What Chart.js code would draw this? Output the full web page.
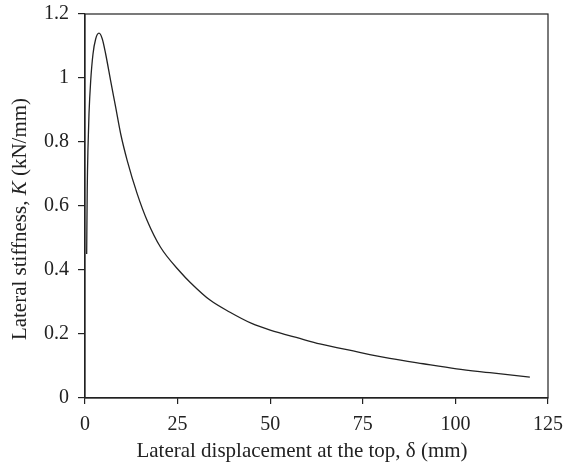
<!DOCTYPE html>
<html>
<head>
<meta charset="utf-8">
<script src="https://cdn.jsdelivr.net/npm/chart.js@4/dist/chart.umd.min.js"></script>
<style>
  html, body { margin: 0; padding: 0; background: #fff; }
  #wrap { width: 579px; height: 463px; }
</style>
</head>
<body>
<div id="wrap"><canvas id="chart" width="579" height="463"></canvas></div>
<script>
// lateral displacement at the top (mm)
var displacement = [0.45, 0.6, 0.81, 1.08, 1.53, 2.16, 2.88, 3.78, 4.67, 5.58, 6.94, 8.29, 9.64, 11.4, 14.1,
  16.8, 20.4, 25.8, 28.35, 33.75, 39.15, 45, 50, 58, 63.4, 72.4, 82.3, 91.3, 100.3, 109.3, 120.1];
// lateral stiffness K (kN/mm)
var stiffness = [0.45, 0.65, 0.783, 0.888, 0.99, 1.075, 1.122, 1.14, 1.122, 1.075, 0.99, 0.908, 0.825, 0.742, 0.638,
  0.554, 0.471, 0.393, 0.362, 0.306, 0.268, 0.233, 0.212, 0.186, 0.169, 0.147, 0.124, 0.107, 0.091, 0.079, 0.065];

var xTicks = [0, 25, 50, 75, 100, 125];
var yTicks = [0, 0.2, 0.4, 0.6, 0.8, 1, 1.2];

var ink = '#222';
var serif = '"Liberation Serif", "DejaVu Serif", serif';

var points = displacement.map(function(d, i) {
  return {x: d, y: stiffness[i]};
});

// box round the plot and the two axis titles (y title has an italic K)
var framePlugin = {
  id: 'frame',
  afterDraw: function(chart) {
    var ctx = chart.ctx, a = chart.chartArea;
    ctx.save();
    ctx.strokeStyle = ink;
    ctx.lineWidth = 1.2;
    ctx.strokeRect(a.left, a.top, a.right - a.left, a.bottom - a.top);

    ctx.fillStyle = ink;
    ctx.textBaseline = 'alphabetic';
    ctx.textAlign = 'center';
    ctx.font = '21px ' + serif;
    ctx.fillText('Lateral displacement at the top, \u03b4 (mm)', 302, 457);

    var parts = [
      {t: 'Lateral stiffness, ', f: '21px ' + serif},
      {t: 'K', f: 'italic 21px ' + serif},
      {t: ' (kN/mm)', f: '21px ' + serif}
    ];
    var total = 0;
    parts.forEach(function(p) { ctx.font = p.f; p.w = ctx.measureText(p.t).width; total += p.w; });
    ctx.translate(26, 219);
    ctx.rotate(-Math.PI / 2);
    ctx.textAlign = 'left';
    var x = -total / 2;
    parts.forEach(function(p) { ctx.font = p.f; ctx.fillText(p.t, x, 0); x += p.w; });
    ctx.restore();
  }
};

new Chart(document.getElementById('chart'), {
  type: 'line',
  data: {
    datasets: [{
      data: points,
      borderColor: ink,
      borderWidth: 1.3,
      pointRadius: 0,
      fill: false,
      cubicInterpolationMode: 'monotone'
    }]
  },
  options: {
    responsive: false,
    animation: false,
    devicePixelRatio: 1,
    layout: {padding: {left: 0, top: 14, right: 31, bottom: 0}},
    plugins: {legend: {display: false}, tooltip: {enabled: false}},
    scales: {
      x: {
        type: 'linear',
        min: 0, max: 125,
        afterBuildTicks: function(s) { s.ticks = xTicks.map(function(v) { return {value: v}; }); },
        afterFit: function(s) { s.height = 65; s.paddingLeft = 0; s.paddingRight = 0; },
        grid: {drawOnChartArea: false, drawTicks: true, tickLength: 6, color: ink, lineWidth: 1.2},
        border: {color: ink, width: 1.2},
        ticks: {color: ink, font: {family: serif, size: 20}, padding: 9, maxRotation: 0}
      },
      y: {
        type: 'linear',
        min: 0, max: 1.2,
        afterBuildTicks: function(s) { s.ticks = yTicks.map(function(v) { return {value: v}; }); },
        afterFit: function(s) { s.width = 85; s.paddingTop = 0; s.paddingBottom = 0; },
        grid: {drawOnChartArea: false, drawTicks: true, tickLength: 7, color: ink, lineWidth: 1.2},
        border: {color: ink, width: 1.2},
        ticks: {color: ink, font: {family: serif, size: 20}, padding: 9,
          callback: function(v) { return String(Math.round(v * 10) / 10); }}
      }
    }
  },
  plugins: [framePlugin]
});
</script>
</body>
</html>
